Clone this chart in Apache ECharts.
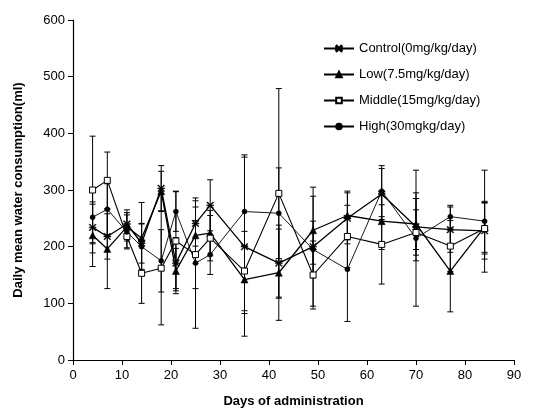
<!DOCTYPE html>
<html>
<head>
<meta charset="utf-8">
<script src="https://cdn.jsdelivr.net/npm/echarts@6/dist/echarts.min.js"></script>
<style>html,body{margin:0;padding:0;background:#fff;}#c{width:534px;height:413px;}</style>
</head>
<body>
<div id="c"></div>
<script>
// Days of administration
var days = [4, 7, 11, 14, 18, 21, 25, 28, 35, 42, 49, 56, 63, 70, 77, 84];
var seriesNames = ['Control(0mg/kg/day)', 'Low(7.5mg/kg/day)', 'Middle(15mg/kg/day)', 'High(30mgkg/day)'];
// Means (ml)
var controlMean = [234, 218, 240, 206, 303, 171, 241, 273, 200, 171, 200, 250, 293, 235, 230, 228];
var lowMean     = [220, 196, 235, 215, 298, 157, 220, 224, 142, 154, 229, 255, 245, 240, 157, 235];
var middleMean  = [300, 317, 218, 153, 162, 210, 186, 215, 157, 294, 150, 218, 204, 225, 201, 232];
var highMean    = [252, 266, 226, 200, 175, 262, 171, 186, 262, 259, 195, 160, 298, 215, 253, 245];
// Standard deviations (ml)
var controlSD = [45, 40, 25, 35, 40, 45, 40, 45, 158, 60, 105, 45, 45, 60, 40, 50];
var lowSD     = [55, 70, 25, 63, 35, 40, 50, 40, 60, 84, 60, 43, 50, 45, 72, 45];
var middleSD  = [95, 50, 20, 53, 100, 88, 60, 40, 70, 185, 60, 55, 70, 40, 45, 45];
var highSD    = [45, 45, 30, 40, 55, 35, 115, 35, 100, 80, 50, 92, 45, 120, 20, 90];
// Axis ticks
var xTicks = [0, 10, 20, 30, 40, 50, 60, 70, 80, 90];
var yTicks = [0, 100, 200, 300, 400, 500, 600];

var FONT = 'Liberation Sans, Arial, sans-serif';
var means = [controlMean, lowMean, middleMean, highMean];
var sds = [controlSD, lowSD, middleSD, highSD];
var symbols = [
  'path://M0,1L1,0L5,4L9,0L10,1L6,5L10,9L9,10L5,6L1,10L0,9L4,5Z M0,4.4L10,4.4L10,5.6L0,5.6Z',
  'triangle', 'rect', 'circle'
];
var symbolSizes = [7, 7, 6, 5];
var lineWidths = [1.3, 1.3, 1.1, 0.9];

function pairs(m) { return days.map(function (d, i) { return [d, m[i]]; }); }
function errData(m, s) { return days.map(function (d, i) { return [d, m[i] - s[i], m[i] + s[i]]; }); }

var series = [];
for (var k = 0; k < 4; k++) {
  series.push({
    type: 'custom',
    name: seriesNames[k] + '_err',
    z: 1,
    silent: true,
    renderItem: function (params, api) {
      var x = api.value(0);
      var lo = api.coord([x, api.value(1)]);
      var hi = api.coord([x, api.value(2)]);
      var w = 3;
      var st = { stroke: '#000', lineWidth: 1 };
      return {
        type: 'group',
        children: [
          { type: 'line', shape: { x1: lo[0], y1: lo[1], x2: hi[0], y2: hi[1] }, style: st },
          { type: 'line', shape: { x1: lo[0] - w, y1: lo[1], x2: lo[0] + w, y2: lo[1] }, style: st },
          { type: 'line', shape: { x1: hi[0] - w, y1: hi[1], x2: hi[0] + w, y2: hi[1] }, style: st }
        ]
      };
    },
    data: errData(means[k], sds[k])
  });
  series.push({
    type: 'line',
    name: seriesNames[k],
    z: 3,
    data: pairs(means[k]),
    symbol: symbols[k],
    symbolSize: symbolSizes[k],
    showAllSymbol: true,
    lineStyle: { color: '#000', width: lineWidths[k] },
    itemStyle: k === 2 ? { color: '#fff', borderColor: '#000', borderWidth: 1 } : { color: '#000', borderColor: '#000', borderWidth: 0.5 },
    emphasis: { disabled: true },
    animation: false
  });
}

var chart = echarts.init(document.getElementById('c'), null, { renderer: 'canvas' });
chart.setOption({
  animation: false,
  backgroundColor: '#fff',
  grid: { left: 73, right: 20, top: 20, bottom: 50 },
  legend: {
    data: seriesNames,
    orient: 'vertical',
    left: 318,
    top: 37,
    itemGap: 13,
    itemWidth: 30,
    itemHeight: 7,
    textStyle: { fontFamily: FONT, fontSize: 13, color: '#000' },
    selectedMode: false
  },
  xAxis: {
    type: 'value',
    min: xTicks[0], max: xTicks[xTicks.length - 1], interval: 10,
    name: 'Days of administration',
    nameLocation: 'middle',
    nameGap: 35,
    nameTextStyle: { fontFamily: FONT, fontSize: 13, fontWeight: 'bold', color: '#000' },
    axisLine: { show: true, onZero: false, lineStyle: { color: '#000', width: 1.2 } },
    axisTick: { show: true, length: 5, lineStyle: { color: '#000' } },
    axisLabel: { fontFamily: FONT, fontSize: 13, color: '#000', margin: 9 },
    splitLine: { show: false }
  },
  yAxis: {
    type: 'value',
    min: yTicks[0], max: yTicks[yTicks.length - 1], interval: 100,
    name: 'Daily mean water consumption(ml)',
    nameLocation: 'middle',
    nameGap: 48,
    nameTextStyle: { fontFamily: FONT, fontSize: 13, fontWeight: 'bold', color: '#000' },
    axisLine: { show: true, lineStyle: { color: '#000', width: 1.2 } },
    axisTick: { show: true, length: 5, lineStyle: { color: '#000' } },
    axisLabel: { fontFamily: FONT, fontSize: 13, color: '#000', margin: 8 },
    splitLine: { show: false }
  },
  series: series
});
</script>
</body>
</html>
